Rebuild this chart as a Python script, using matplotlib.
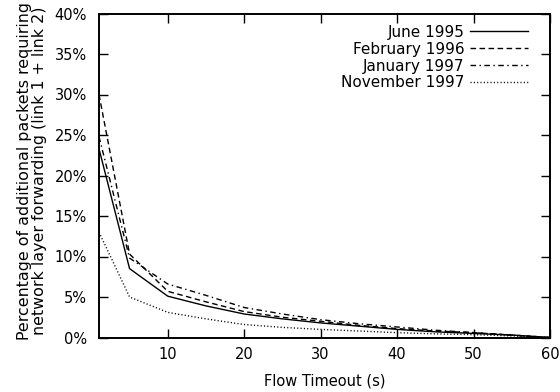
import numpy as np
import matplotlib
matplotlib.use("Agg")
import matplotlib.pyplot as plt

plt.rcParams['font.family'] = ['DejaVu Sans']

timeout = [1, 5, 10, 15, 20, 25, 30, 35, 40, 45, 50, 55, 60]
june_1995 = [23.3, 8.5, 5.1, 3.9, 2.9, 2.3, 1.8, 1.4, 1.0, 0.7, 0.5, 0.3, 0.0]
feb_1996 = [30.0, 10.3, 5.7, 4.4, 3.2, 2.5, 2.0, 1.5, 1.1, 0.8, 0.6, 0.3, 0.0]
jan_1997 = [24.8, 9.8, 6.6, 5.2, 3.7, 2.9, 2.2, 1.7, 1.3, 0.9, 0.6, 0.3, 0.0]
nov_1997 = [13.0, 5.0, 3.1, 2.3, 1.6, 1.25, 1.0, 0.8, 0.6, 0.45, 0.35, 0.2, 0.0]

labels = ['June 1995', 'February 1996', 'January 1997', 'November 1997']
yticks = [0, 5, 10, 15, 20, 25, 30, 35, 40]
xticks = [10, 20, 30, 40, 50, 60]

fig = plt.figure(figsize=(5.6, 3.92), dpi=100)
ax = fig.add_axes([99/560, 54.5/392, 451/560, 324/392])

ax.plot(timeout, june_1995, 'k-', lw=1.0, label=labels[0])
ax.plot(timeout, feb_1996, 'k', lw=1.0, dashes=(4, 2.5), label=labels[1])
ax.plot(timeout, jan_1997, 'k', lw=1.0, dashes=(4, 2.5, 1, 2.5), label=labels[2])
ax.plot(timeout, nov_1997, 'k', lw=1.0, dashes=(0.8, 1.6), label=labels[3])

ax.set_xlim(1, 60)
ax.set_ylim(0, 40)
ax.set_xticks(xticks)
ax.set_yticks(yticks)
ax.set_yticklabels([f'{v}%' for v in yticks])
ax.tick_params(direction='in', length=6.5, width=1, top=True, right=True,
               labelsize=10.5, colors='black')
ax.tick_params(axis='y', pad=8.6)
ax.tick_params(axis='x', pad=6.5)
for s in ax.spines.values():
    s.set_linewidth(1.4)

ax.set_xlabel('Flow Timeout (s)', fontsize=10.5)
ax.xaxis.set_label_coords(0.5, -0.111)
ax.set_ylabel('Percentage of additional packets requiring\nnetwork layer forwarding (link 1 + link 2)',
              fontsize=11.4, linespacing=0.98)
ax.yaxis.set_label_coords(-0.115, 0.514)

# markerfirst=False right-aligns the entries, so the labels end at one x
ax.legend(loc='upper right', frameon=False, markerfirst=False, fontsize=11,
          handlelength=3.8, handletextpad=0.35, labelspacing=0.12,
          borderpad=0, borderaxespad=0, bbox_to_anchor=(0.951, 0.965))

fig.savefig('out.png', dpi=100)
